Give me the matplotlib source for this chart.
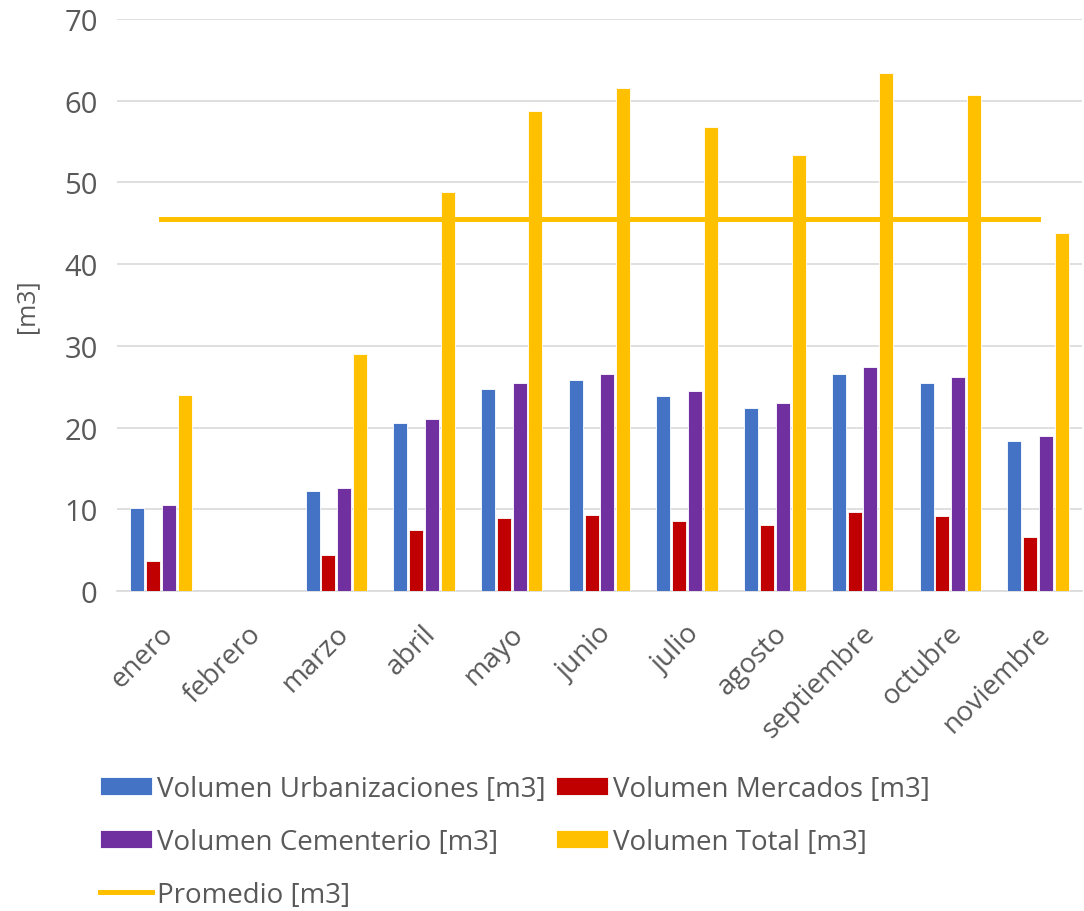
import matplotlib
import matplotlib.pyplot as plt
import matplotlib.transforms as mtransforms
import numpy as np

plt.rcParams['font.family'] = ['Open Sans', 'DejaVu Sans']

meses = ['enero', 'febrero', 'marzo', 'abril', 'mayo', 'junio', 'julio',
         'agosto', 'septiembre', 'octubre', 'noviembre']
urbanizaciones = [10.1, 0, 12.2, 20.5, 24.7, 25.8, 23.8, 22.4, 26.6, 25.5, 18.4]
mercados = [3.7, 0, 4.4, 7.4, 8.9, 9.3, 8.6, 8.1, 9.6, 9.2, 6.6]
cementerio = [10.5, 0, 12.6, 21.1, 25.4, 26.5, 24.5, 23.0, 27.4, 26.2, 18.9]
total = [24.0, 0, 29.0, 48.8, 58.8, 61.5, 56.8, 53.4, 63.4, 60.7, 43.8]
promedio = [45.5] * len(meses)

colors = ['#4472C4', '#C00000', '#7030A0', '#FFC000']
txt = '#595959'

fig = plt.figure(figsize=(10.84, 9.12), dpi=100)
ax = fig.add_axes([0.108, 0.351, 0.89, 0.627])

x = np.arange(len(meses))
width = 0.16
step = 0.18
series = [urbanizaciones, mercados, cementerio, total]
names = ['Volumen Urbanizaciones [m3]', 'Volumen Mercados [m3]',
         'Volumen Cementerio [m3]', 'Volumen Total [m3]']
bars = []
for i, (vals, name) in enumerate(zip(series, names)):
    b = ax.bar(x + (i - 1.5) * step, vals, width, color=colors[i],
               edgecolor='white', linewidth=0.6, label=name, zorder=3)
    bars.append(b)
line, = ax.plot(x, promedio, color='#FFC000', linewidth=3.6,
                label='Promedio [m3]', zorder=4)

ax.set_xlim(-0.5, len(meses) - 0.5)
ax.set_ylim(0, 70)
ax.set_yticks(np.arange(0, 71, 10))
ax.yaxis.grid(True, color='#D9D9D9', linewidth=1.2, zorder=0)
for s in ['top', 'right', 'left']:
    ax.spines[s].set_visible(False)
ax.spines['bottom'].set_color('#D9D9D9')
ax.spines['bottom'].set_linewidth(1.2)
ax.tick_params(axis='both', length=0, labelsize=21, colors=txt, pad=14)
ax.set_xticks(x)
ax.set_xticklabels(meses, rotation=45, ha='right', va='center',
                   rotation_mode='anchor')
ax.tick_params(axis='x', pad=24, labelsize=20)
shift = mtransforms.ScaledTranslation(0.08, -0.05, fig.dpi_scale_trans)
for lbl in ax.get_xticklabels():
    lbl.set_transform(lbl.get_transform() + shift)
ax.set_ylabel('[m3]', fontsize=18, color=txt, labelpad=18)

handles = [bars[0], bars[2], line, bars[1], bars[3]]
ax.legend(handles=handles, loc='upper left', bbox_to_anchor=(-0.029, -0.302),
          ncol=2, frameon=False, fontsize=20, labelcolor=txt,
          handlelength=1.87, handleheight=0.61, handletextpad=0.18,
          columnspacing=0.36, labelspacing=0.9, borderaxespad=0)

fig.savefig('out.png', dpi=100)
